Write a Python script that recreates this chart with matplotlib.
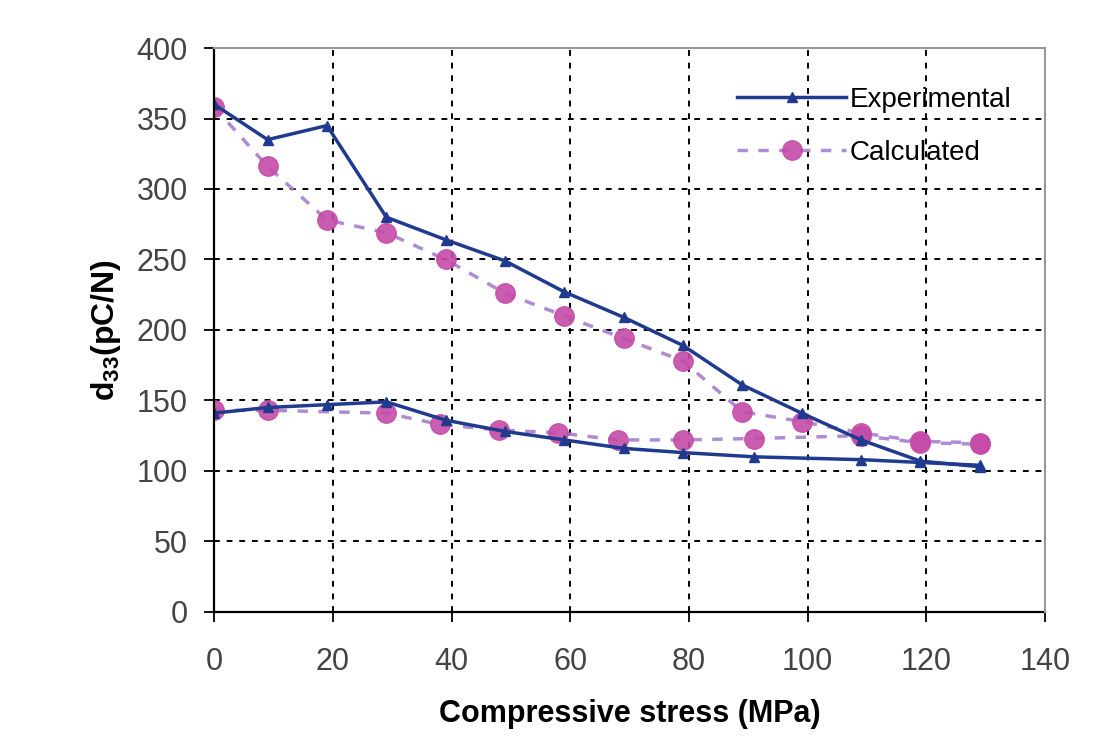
import matplotlib.pyplot as plt
import numpy as np

plt.rcParams['font.family'] = ['Liberation Sans', 'DejaVu Sans']
plt.rcParams['mathtext.fontset'] = 'custom'
plt.rcParams['mathtext.bf'] = 'Liberation Sans:bold'

# upper branch
x_up = [0, 9, 19, 29, 39, 49, 59, 69, 79, 89, 99, 109, 119, 129]
exp_up = [360, 335, 345, 280, 264, 249, 227, 209, 189, 161, 141, 122, 107, 103]
x_up_c = [0, 9, 19, 29, 39, 49, 59, 69, 79, 89, 99, 109, 119, 129]
calc_up = [358, 316, 278, 269, 250, 226, 210, 194, 178, 142, 135, 127, 121, 120]

# lower branch
x_lo = [0, 9, 19, 29, 39, 49, 59, 69, 79, 91, 109, 119, 129]
exp_lo = [141, 145, 147, 149, 136, 128, 122, 116, 113, 110, 108, 106, 104]
x_lo_c = [0, 9, 29, 38, 48, 58, 68, 79, 91, 109, 119, 129]
calc_lo = [143, 143, 141, 133, 129, 127, 122, 122, 123, 125, 120, 119]

blue = '#1f3a8f'
pink = '#c54ba8'
dash_col = '#a77fd0'

fig = plt.figure(figsize=(10.93, 7.39), dpi=100)
ax = fig.add_axes([0.196, 0.172, 0.76, 0.763])

# calculated (drawn first, under experimental)
ax.plot(x_up_c, calc_up, linestyle=(0, (3, 3)), color=dash_col, lw=2.5,
        marker='o', ms=14, mfc=pink, mec=pink, alpha=0.9, label='Calculated')
ax.plot(x_lo_c, calc_lo, linestyle=(0, (3, 3)), color=dash_col, lw=2.5,
        marker='o', ms=14, mfc=pink, mec=pink, alpha=0.9)

ax.plot(x_up, exp_up, '-', color=blue, lw=2.5, marker='^', ms=7, label='Experimental')
ax.plot(x_lo, exp_lo, '-', color=blue, lw=2.5, marker='^', ms=7)

ax.set_xlim(0, 140)
ax.set_ylim(0, 400)
ax.set_xticks(np.arange(0, 141, 20))
ax.set_yticks(np.arange(0, 401, 50))
ax.grid(True, color='black', linestyle=(0, (3, 3.5)), lw=1.4)
ax.set_axisbelow(True)

for s in ['top', 'right']:
    ax.spines[s].set_color('#999999')
    ax.spines[s].set_linewidth(1.5)
    ax.spines[s].set_zorder(3)
ax.spines['left'].set_linewidth(1.6)
ax.spines['bottom'].set_linewidth(1.6)
ax.tick_params(axis='both', labelsize=22, labelcolor='#444444', direction='out',
               length=7, width=1.3)
ax.tick_params(axis='x', pad=18)
ax.tick_params(axis='y', pad=12)

ax.set_xlabel('Compressive stress (MPa)', fontsize=22, fontweight='bold', labelpad=16)
ax.set_ylabel('d$_{\\mathbf{33}}$(pC/N)', fontsize=23, fontweight='bold', labelpad=10)

h, l = ax.get_legend_handles_labels()
ax.legend(h[::-1], l[::-1], loc='upper right', bbox_to_anchor=(0.99, 0.975), frameon=False,
          fontsize=20, handlelength=3.9, handletextpad=0.15, labelspacing=0.95)

plt.savefig('out.png', dpi=100)
